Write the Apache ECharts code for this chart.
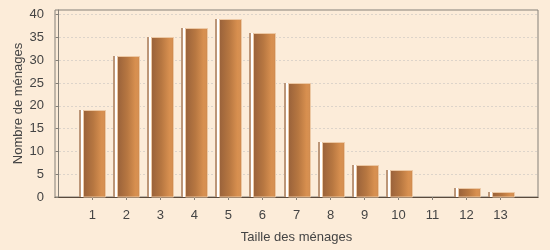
<!DOCTYPE html>
<html>
<head>
<meta charset="utf-8">
<script src="https://cdn.jsdelivr.net/npm/echarts@6/dist/echarts.min.js"></script>
<style>html,body{margin:0;padding:0;background:#fcecd9;}#c{width:550px;height:250px;}</style>
</head>
<body>
<div id="c"></div>
<script>
var categories = [1, 2, 3, 4, 5, 6, 7, 8, 9, 10, 11, 12, 13];
var values = [19, 31, 35, 37, 39, 36, 25, 12, 7, 6, 0, 2, 1];
var yTicks = [0, 5, 10, 15, 20, 25, 30, 35, 40];
var xTitle = 'Taille des ménages';
var yTitle = 'Nombre de ménages';

var data = categories.map(function (c, i) { return [c, values[i]]; });
var chart = echarts.init(document.getElementById('c'), null, {renderer: 'canvas'});
var font = 'Liberation Sans';
var txt = '#444444';
chart.setOption({
  backgroundColor: '#fcecd9',
  animation: false,
  grid: {left: 55, right: 12, top: 10, bottom: 53, containLabel: false, outerBoundsMode: 'none', show: true, borderColor: '#858078', borderWidth: 1, backgroundColor: 'transparent'},
  xAxis: [{
    type: 'value', min: -0.1, max: 14.1, offset: 4,
    name: xTitle, nameLocation: 'middle', nameGap: 30, nameMoveOverlap: false,
    nameTextStyle: {color: txt, fontFamily: font, fontSize: 13},
    axisLine: {show: true, lineStyle: {color: '#858078'}},
    axisTick: {show: true, length: 3, customValues: categories, lineStyle: {color: '#858078'}},
    axisLabel: {customValues: categories, color: txt, fontFamily: font, fontSize: 13, margin: 8},
    splitLine: {show: false}
  }, {
    type: 'value', min: -0.1, max: 14.1, position: 'bottom', offset: 0,
    axisLine: {show: true, lineStyle: {color: '#5a4a3c'}},
    axisTick: {show: false}, axisLabel: {show: false}, splitLine: {show: false}
  }],
  yAxis: {
    type: 'value', min: 0, max: 41, interval: 5, offset: 4,
    name: yTitle, nameLocation: 'middle', nameGap: 26, nameRotate: 90, nameMoveOverlap: false,
    nameTextStyle: {color: txt, fontFamily: font, fontSize: 13},
    axisLine: {show: true, lineStyle: {color: '#858078'}},
    axisTick: {show: true, length: 3, customValues: yTicks, lineStyle: {color: '#858078'}},
    axisLabel: {customValues: yTicks, color: txt, fontFamily: font, fontSize: 13, margin: 7},
    splitLine: {show: true, lineStyle: {color: '#ddd4ca', type: [2, 2], width: 1}}
  },
  series: [{
    type: 'custom',
    xAxisIndex: 0,
    data: data,
    renderItem: function (params, api) {
      var x = api.value(0), y = api.value(1);
      if (!y) return null;
      var top = api.coord([x, y]);
      var base = api.coord([x, 0]);
      var cx = top[0], ty = Math.round(top[1]), by = Math.round(base[1]);
      var h = by - ty;
      var L = Math.round(cx - 13);
      return {
        type: 'group',
        children: [
          {type: 'rect', shape: {x: L, y: ty, width: 2, height: h}, style: {fill: '#bc9678'}},
          {type: 'rect', shape: {x: L + 2, y: ty, width: 2, height: h}, style: {fill: '#ffffff'}},
          {type: 'rect', shape: {x: L + 4, y: ty, width: 1, height: h}, style: {fill: '#e8d0b8'}},
          {type: 'rect', shape: {x: L + 4.5, y: ty + 0.5, width: 22, height: h - 0.5},
            style: {
              fill: new echarts.graphic.LinearGradient(0, 0, 1, 0, [
                {offset: 0, color: '#98613a'},
                {offset: 0.45, color: '#b77741'},
                {offset: 0.8, color: '#d78f4f'},
                {offset: 0.92, color: '#d69052'},
                {offset: 1, color: '#c07c44'}
              ]),
              stroke: '#ecc8a4', lineWidth: 1
            }}
        ]
      };
    }
  }]
});
</script>
</body>
</html>
